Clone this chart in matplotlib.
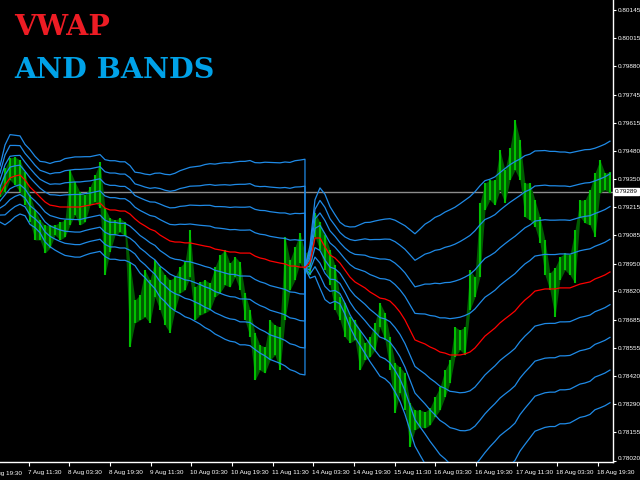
import numpy as np
import matplotlib
matplotlib.use("Agg")
import matplotlib.pyplot as plt
import matplotlib.transforms as mtransforms

# ---------------- data ----------------
# price bars sampled about every 2 trading hours (hours since 6 Aug 19:30)
bar_high = [0.79321, 0.79401, 0.79448, 0.79453, 0.79438, 0.79382, 0.79274, 0.79203, 0.79156, 0.79132,
            0.79132, 0.79132, 0.79146, 0.79156, 0.79391, 0.79335, 0.79288, 0.79274, 0.79311, 0.79368,
            0.79429, 0.79212, 0.79165, 0.79156, 0.79165, 0.79146, 0.78953, 0.78779, 0.78803, 0.78920,
            0.78873, 0.78967, 0.78934, 0.78897, 0.78873, 0.78887, 0.78934, 0.78958, 0.79109, 0.78840,
            0.78864, 0.78873, 0.78859, 0.78934, 0.78991, 0.79015, 0.78953, 0.78982, 0.78958, 0.78812,
            0.78732, 0.78624, 0.78567, 0.78558, 0.78685, 0.78661, 0.78652, 0.79076, 0.78967, 0.79029,
            0.79095, 0.79000, 0.79015, 0.79189, 0.79146, 0.79085, 0.79015, 0.78944, 0.78793, 0.78765,
            0.78699, 0.78685, 0.78638, 0.78577, 0.78605, 0.78671, 0.78765, 0.78718, 0.78605, 0.78482,
            0.78463, 0.78435, 0.78294, 0.78261, 0.78261, 0.78252, 0.78270, 0.78322, 0.78369, 0.78449,
            0.78496, 0.78652, 0.78638, 0.78652, 0.78920, 0.78887, 0.79236, 0.79330, 0.79344, 0.79344,
            0.79486, 0.79391, 0.79495, 0.79627, 0.79533, 0.79330, 0.79330, 0.79250, 0.79170, 0.79062,
            0.78906, 0.78930, 0.78982, 0.79000, 0.78991, 0.79109, 0.79250, 0.79250, 0.79297, 0.79377,
            0.79438, 0.79377, 0.79382]
bar_low = [0.79264, 0.79288, 0.79344, 0.79321, 0.79288, 0.79226, 0.79146, 0.79062, 0.79062, 0.79000,
           0.79024, 0.79085, 0.79062, 0.79076, 0.79132, 0.79179, 0.79132, 0.79146, 0.79226, 0.79241,
           0.79212, 0.78897, 0.79005, 0.79085, 0.79099, 0.79080, 0.78558, 0.78671, 0.78685, 0.78699,
           0.78671, 0.78793, 0.78732, 0.78661, 0.78624, 0.78732, 0.78812, 0.78826, 0.78887, 0.78685,
           0.78708, 0.78718, 0.78732, 0.78793, 0.78812, 0.78850, 0.78840, 0.78887, 0.78826, 0.78685,
           0.78605, 0.78402, 0.78449, 0.78435, 0.78496, 0.78520, 0.78449, 0.78685, 0.78826, 0.78873,
           0.78953, 0.78906, 0.78897, 0.79076, 0.79015, 0.78920, 0.78850, 0.78732, 0.78685, 0.78605,
           0.78577, 0.78591, 0.78449, 0.78496, 0.78511, 0.78544, 0.78652, 0.78591, 0.78449, 0.78247,
           0.78341, 0.78261, 0.78087, 0.78167, 0.78181, 0.78176, 0.78190, 0.78228, 0.78261, 0.78322,
           0.78388, 0.78511, 0.78544, 0.78520, 0.78732, 0.78793, 0.78887, 0.79203, 0.79250, 0.79226,
           0.79297, 0.79236, 0.79344, 0.79391, 0.79344, 0.79170, 0.79156, 0.79123, 0.79048, 0.78897,
           0.78826, 0.78699, 0.78873, 0.78920, 0.78897, 0.78859, 0.79170, 0.79142, 0.79132, 0.79076,
           0.79283, 0.79297, 0.79283]

# VWAP and band step (one standard deviation), session 1 and session 2
vwap_s1 = [0.79278, 0.79321, 0.79354, 0.79363, 0.79368, 0.79344, 0.79311, 0.79288, 0.79264, 0.79241,
           0.79226, 0.79222, 0.79217, 0.79217, 0.79217, 0.79217, 0.79217, 0.79222, 0.79226, 0.79231,
           0.79236, 0.79212, 0.79203, 0.79203, 0.79198, 0.79198, 0.79184, 0.79161, 0.79142, 0.79128,
           0.79113, 0.79104, 0.79085, 0.79071, 0.79057, 0.79052, 0.79052, 0.79048, 0.79048, 0.79043,
           0.79038, 0.79033, 0.79029, 0.79019, 0.79015, 0.79010, 0.79005, 0.79005, 0.79000, 0.79000,
           0.79000, 0.78986, 0.78977, 0.78972, 0.78963, 0.78958, 0.78953, 0.78949, 0.78939, 0.78939,
           0.78934, 0.78934]
sigma_s1 = [0.00033, 0.00047, 0.00051, 0.00048, 0.00046, 0.00042, 0.00044, 0.00042, 0.00042, 0.00047,
            0.00049, 0.00052, 0.00054, 0.00057, 0.00058, 0.00059, 0.00059, 0.00058, 0.00057, 0.00057,
            0.00057, 0.00057, 0.00058, 0.00058, 0.00058, 0.00058, 0.00057, 0.00055, 0.00059, 0.00061,
            0.00064, 0.00068, 0.00073, 0.00075, 0.00078, 0.00081, 0.00084, 0.00087, 0.00089, 0.00091,
            0.00093, 0.00096, 0.00098, 0.00100, 0.00102, 0.00104, 0.00105, 0.00106, 0.00108, 0.00108,
            0.00109, 0.00110, 0.00112, 0.00114, 0.00116, 0.00117, 0.00118, 0.00120, 0.00122, 0.00124,
            0.00126, 0.00127]
vwap_s2 = [0.78930, 0.78958, 0.79071, 0.79071, 0.79029, 0.78991, 0.78977, 0.78953, 0.78920, 0.78887,
           0.78864, 0.78850, 0.78836, 0.78817, 0.78803, 0.78788, 0.78784, 0.78774, 0.78751, 0.78722,
           0.78685, 0.78638, 0.78591, 0.78581, 0.78572, 0.78558, 0.78548, 0.78534, 0.78529, 0.78520,
           0.78520, 0.78520, 0.78525, 0.78534, 0.78553, 0.78581, 0.78609, 0.78628, 0.78647, 0.78671,
           0.78690, 0.78708, 0.78727, 0.78755, 0.78779, 0.78798, 0.78821, 0.78826, 0.78831, 0.78831,
           0.78831, 0.78836, 0.78836, 0.78836, 0.78845, 0.78854, 0.78859, 0.78864, 0.78878, 0.78887,
           0.78897, 0.78911]
sigma_s2 = [0.00000, 0.00019, 0.00045, 0.00059, 0.00062, 0.00057, 0.00051, 0.00048, 0.00052, 0.00059,
            0.00065, 0.00071, 0.00077, 0.00082, 0.00087, 0.00092, 0.00094, 0.00097, 0.00101, 0.00105,
            0.00111, 0.00118, 0.00125, 0.00133, 0.00141, 0.00148, 0.00155, 0.00161, 0.00166, 0.00171,
            0.00174, 0.00178, 0.00181, 0.00183, 0.00184, 0.00184, 0.00183, 0.00180, 0.00178, 0.00177,
            0.00177, 0.00177, 0.00176, 0.00172, 0.00170, 0.00167, 0.00165, 0.00164, 0.00163, 0.00162,
            0.00162, 0.00160, 0.00160, 0.00159, 0.00158, 0.00157, 0.00157, 0.00156, 0.00154, 0.00154,
            0.00154, 0.00154]

band_multipliers = [1, 2, 3, 4]
last_price = 0.79289

price_ticks = [0.80145, 0.80015, 0.79880, 0.79745, 0.79615, 0.79480, 0.79350, 0.79215, 0.79085,
               0.78950, 0.78820, 0.78685, 0.78555, 0.78420, 0.78290, 0.78155, 0.78020]
time_labels = ["6 Aug 19:30", "7 Aug 11:30", "8 Aug 03:30", "8 Aug 19:30", "9 Aug 11:30",
               "10 Aug 03:30", "10 Aug 19:30", "11 Aug 11:30", "14 Aug 03:30", "14 Aug 19:30",
               "15 Aug 11:30", "16 Aug 03:30", "16 Aug 19:30", "17 Aug 11:30", "18 Aug 03:30",
               "18 Aug 19:30"]
label_step_hours = 16

# ---------------- drawing ----------------
n = len(bar_high)
t = np.linspace(4.72, 244.7, n)          # trading hours of each sampled bar
split = len(vwap_s1) - 1                 # session 2 starts where session 1 ends
t_band = np.concatenate([t[:split + 1], t[split:]])
vwap = np.concatenate([vwap_s1, vwap_s2])
sigma = np.concatenate([sigma_s1, sigma_s2])
tick_t = np.arange(len(time_labels)) * label_step_hours

W, H = 640, 480
fig = plt.figure(figsize=(W / 100, H / 100), dpi=100, facecolor="black")
ax = fig.add_axes([0, 18 / H, 613 / W, 462 / H], facecolor="black")

ax.set_xlim(4.72, 245.9)
ax.set_ylim(0.78016, 0.80192)

hi = np.array(bar_high)
lo = np.array(bar_low)
ax.fill_between(t, lo, hi, color="#005c00", lw=0, zorder=2)
ax.vlines(t, lo, hi, color="#00c000", lw=1.5, zorder=3)

band_blue = "#1f8ae6"
for k in band_multipliers:
    ax.plot(t_band, vwap + k * sigma, color=band_blue, lw=0.9, zorder=4)
    ax.plot(t_band, vwap - k * sigma, color=band_blue, lw=0.9, zorder=4)
ax.plot(t_band, vwap, color="#ff0000", lw=0.9, zorder=5)

ax.axhline(last_price, color="#8c8c8c", lw=1.0, zorder=1)

# axes styling (MetaTrader look)
for s in ("left", "top"):
    ax.spines[s].set_visible(False)
for s in ("right", "bottom"):
    ax.spines[s].set_color("white")
    ax.spines[s].set_linewidth(1.0)

tick_font = dict(family=["Liberation Sans", "DejaVu Sans"], size=4.6)
ax.yaxis.tick_right()
ax.set_yticks(price_ticks)
ax.set_yticklabels([f"{v:.5f}" for v in price_ticks], color="white", **tick_font)
ax.tick_params(axis="y", colors="white", length=2, width=0.8, pad=1.5)
for lab in ax.get_yticklabels():
    if lab.get_text() == "0.78020":
        lab.set_verticalalignment("bottom")

visible = [(p, l) for p, l in zip(tick_t, time_labels) if p >= 4.72]
ax.set_xticks([p for p, _ in visible])
ax.set_xticklabels([l for _, l in visible], color="white", ha="left", **tick_font)
ax.tick_params(axis="x", colors="white", length=3, width=0.8, pad=3)
offset = mtransforms.ScaledTranslation(-1 / 100, 0, fig.dpi_scale_trans)
for lab in ax.get_xticklabels():
    lab.set_transform(lab.get_transform() + offset)
# label of the first (partly hidden) tick
ax.text(tick_t[0], -0.0195, time_labels[0], transform=ax.get_xaxis_transform(),
        color="white", ha="left", va="top", clip_on=False, **tick_font)

# current price marker
ax.text(1.003, last_price, f"{last_price:.5f}", transform=ax.get_yaxis_transform(),
        color="black", ha="left", va="center", clip_on=False, zorder=10,
        bbox=dict(boxstyle="square,pad=0.2", fc="white", ec="white"), **tick_font)

# title
fig.text(14 / W, 1 - 35 / H, "VWAP", color="#ed1c24", fontsize=20.5,
         family="DejaVu Serif", weight="bold", ha="left", va="baseline")
fig.text(14 / W, 1 - 78 / H, "AND BANDS", color="#00a2e8", fontsize=20.5,
         family="DejaVu Serif", weight="bold", ha="left", va="baseline")

fig.savefig("out.png", dpi=100, facecolor="black")
